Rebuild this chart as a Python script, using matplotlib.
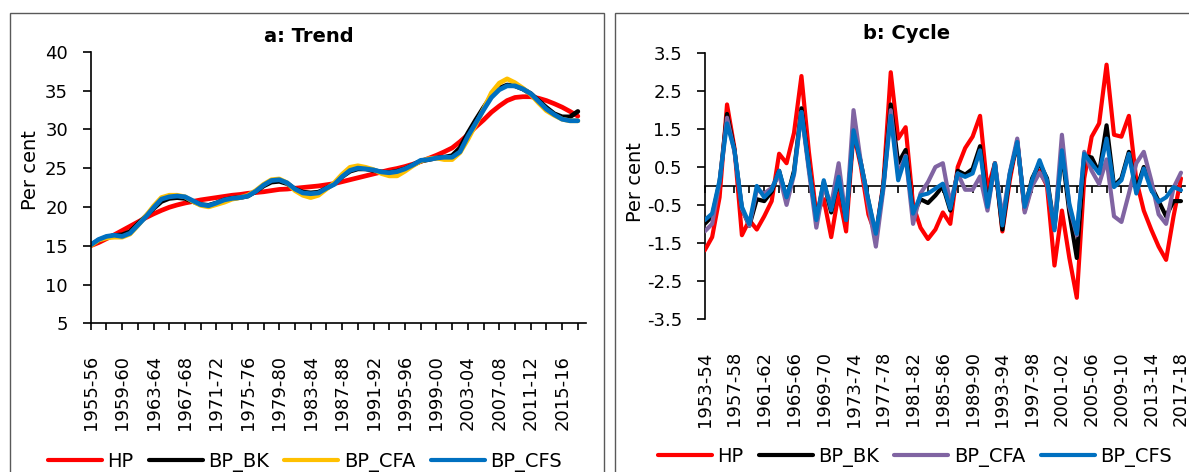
import matplotlib.pyplot as plt
from matplotlib.patches import Rectangle

# ---- data ----
trend_start = 1955   # first period 1955-56
cycle_start = 1953   # first period 1953-54

trend_hp = [15.0, 15.4, 15.9, 16.4, 16.95, 17.5, 18.05, 18.6, 19.1, 19.55,
            19.95, 20.25, 20.5, 20.7, 20.9, 21.05, 21.2, 21.35, 21.5, 21.6,
            21.75, 21.85, 21.95, 22.1, 22.25, 22.3, 22.4, 22.5, 22.6, 22.7,
            22.85, 23.0, 23.25, 23.5, 23.75, 24.0, 24.25, 24.5, 24.75, 24.95,
            25.2, 25.5, 25.85, 26.25, 26.65, 27.1, 27.6, 28.4, 29.3, 30.3,
            31.2, 32.2, 33.0, 33.7, 34.1, 34.2, 34.2, 34.0, 33.7, 33.3,
            32.85, 32.3, 31.7]
trend_bk = [15.1, 15.7, 16.1, 16.3, 16.4, 16.8, 17.8, 18.8, 19.8, 20.7,
            21.1, 21.2, 21.1, 20.7, 20.3, 20.2, 20.5, 20.9, 21.1, 21.2,
            21.4, 22.0, 22.7, 23.2, 23.3, 23.0, 22.3, 21.9, 21.8, 21.9,
            22.4, 23.0, 23.9, 24.6, 24.9, 24.9, 24.7, 24.5, 24.4, 24.6,
            24.9, 25.4, 25.9, 26.1, 26.3, 26.4, 26.6, 27.6, 29.5, 31.2,
            32.8, 34.3, 35.3, 35.7, 35.6, 35.2, 34.6, 33.7, 32.8, 32.0,
            31.6, 31.6, 32.3]
trend_cfa = [15.0, 15.7, 16.0, 16.1, 16.1, 16.5, 17.6, 18.8, 20.1, 21.2,
             21.5, 21.5, 21.3, 20.7, 20.2, 20.0, 20.3, 20.6, 21.0, 21.2,
             21.5, 22.1, 22.9, 23.5, 23.6, 23.1, 22.1, 21.5, 21.2, 21.5,
             22.3, 23.1, 24.2, 25.1, 25.3, 25.1, 24.8, 24.3, 24.0, 24.0,
             24.6, 25.3, 25.9, 26.2, 26.3, 26.1, 26.1, 27.0, 28.7, 30.6,
             32.6, 34.7, 35.95, 36.5, 36.0, 35.3, 34.5, 33.4, 32.4, 31.8,
             31.3, 31.1, 31.1]
trend_cfs = [15.1, 15.8, 16.2, 16.35, 16.2, 16.6, 17.65, 18.7, 19.9, 21.0,
             21.3, 21.4, 21.3, 20.8, 20.3, 20.15, 20.5, 20.9, 21.1, 21.2,
             21.4, 22.0, 22.8, 23.4, 23.5, 23.1, 22.3, 21.8, 21.7, 21.8,
             22.4, 22.9, 23.9, 24.7, 25.0, 24.9, 24.76, 24.5, 24.4, 24.55,
             24.9, 25.4, 26.0, 26.1, 26.3, 26.4, 26.4, 27.1, 29.1, 30.8,
             32.5, 34.1, 35.1, 35.6, 35.6, 35.2, 34.6, 33.6, 32.6, 31.9,
             31.3, 31.1, 31.1]

cycle_hp = [-1.7, -1.35, -0.3, 2.15, 1.0, -1.3, -0.9, -1.15, -0.8, -0.4,
            0.85, 0.6, 1.4, 2.9, 0.9, -0.75, -0.35, -1.35, -0.2, -1.2,
            1.4, 0.5, -0.75, -1.3, 0.05, 3.0, 1.25, 1.55, -0.5, -1.1,
            -1.4, -1.15, -0.7, -1.0, 0.5, 1.0, 1.3, 1.85, -0.1, 0.6,
            -1.2, 0.15, 1.2, -0.65, 0.05, 0.4, 0.0, -2.1, -0.65, -1.9,
            -2.95, 0.2, 1.3, 1.65, 3.2, 1.35, 1.3, 1.85, 0.15, -0.65,
            -1.15, -1.6, -1.95, -0.8, 0.2]
cycle_bk = [-1.0, -0.8, 0.1, 1.9, 0.95, -0.6, -1.05, -0.35, -0.4, -0.15,
            0.4, -0.35, 0.4, 2.05, 0.5, -0.9, 0.1, -0.7, 0.25, -0.9,
            1.5, 0.6, -0.4, -1.35, 0.0, 2.15, 0.6, 0.95, -0.75, -0.35,
            -0.45, -0.25, 0.0, -0.65, 0.4, 0.3, 0.45, 1.05, -0.5, 0.6,
            -1.15, 0.3, 1.15, -0.6, 0.2, 0.6, 0.2, -1.1, 0.9, -0.7,
            -1.9, 0.8, 0.75, 0.35, 1.6, 0.0, 0.2, 0.9, -0.1, 0.5,
            0.0, -0.4, -0.8, -0.4, -0.4]
cycle_cfa = [-1.2, -1.0, 0.1, 1.8, 0.9, -0.6, -1.05, -0.1, -0.2, -0.05,
             0.3, -0.5, 0.3, 1.95, 0.4, -1.1, 0.0, -0.5, 0.6, -0.9,
             2.0, 0.6, -0.5, -1.6, -0.1, 2.0, 0.3, 0.8, -1.0, -0.2,
             0.1, 0.5, 0.6, -0.47, 0.33, -0.1, -0.1, 0.25, -0.65, 0.6,
             -0.85, 0.35, 1.25, -0.7, 0.0, 0.35, 0.05, -1.1, 1.35, -0.55,
             -1.3, 0.9, 0.4, 0.05, 0.7, -0.8, -0.95, -0.2, 0.6, 0.9,
             0.15, -0.75, -1.0, -0.05, 0.35]
cycle_cfs = [-0.9, -0.73, 0.15, 1.65, 0.94, -0.55, -1.0, 0.0, -0.3, -0.1,
             0.4, -0.3, 0.33, 1.95, 0.5, -0.9, 0.15, -0.64, 0.24, -0.9,
             1.47, 0.59, -0.38, -1.26, -0.03, 1.85, 0.15, 0.77, -0.73, -0.25,
             -0.2, -0.07, 0.06, -0.6, 0.33, 0.24, 0.33, 0.94, -0.55, 0.59,
             -1.04, 0.33, 1.16, -0.55, 0.15, 0.68, 0.15, -1.17, 0.94, -0.47,
             -1.26, 0.85, 0.59, 0.33, 1.25, -0.03, 0.15, 0.85, -0.2, 0.46,
             -0.11, -0.42, -0.3, -0.03, -0.11]

names = ['HP', 'BP_BK', 'BP_CFA', 'BP_CFS']
trend_colors = ['#FF0000', '#000000', '#FFC000', '#0070C0']
cycle_colors = ['#FF0000', '#000000', '#8064A2', '#0070C0']


def periods(start, n):
    return [f"{y}-{(y + 1) % 100:02d}" for y in range(start, start + n)]


W, H = 1189, 472
fig = plt.figure(figsize=(W / 100, H / 100), dpi=100)

# chart-area borders (as in the Excel export)
for x0, x1 in [(10, 604), (615, 1200)]:
    fig.patches.append(Rectangle((x0 / W, -0.05), (x1 - x0) / W, 1 - 13 / H + 0.05,
                                 transform=fig.transFigure, fill=False,
                                 ec='#595959', lw=1))

axL = fig.add_axes([90.7 / W, 1 - 323.3 / H, 495 / W, 271.6 / H])
axR = fig.add_axes([704.7 / W, 1 - 318.6 / H, 480 / W, 265.3 / H])

# ---- a: Trend ----
tl = periods(trend_start, len(trend_hp))
xs = range(len(tl))
for ys, c, n in zip([trend_hp, trend_bk, trend_cfa, trend_cfs], trend_colors, names):
    axL.plot(xs, ys, color=c, lw=3.4, label=n, solid_joinstyle='round',
             solid_capstyle='round')
axL.set_xlim(0, 63)
axL.set_ylim(5, 40)
axL.set_yticks(range(5, 41, 5))
for s in ['top', 'right']:
    axL.spines[s].set_visible(False)
for s in ['left', 'bottom']:
    axL.spines[s].set_linewidth(1.2)
axL.set_xticks(range(0, len(tl), 2))
axL.set_xticklabels([tl[i] if i % 4 == 0 else '' for i in range(0, len(tl), 2)],
                    rotation=90, va='top', ha='center')
axL.tick_params(axis='x', direction='out', length=5, width=1.2, labelsize=13, pad=18)
axL.tick_params(axis='y', direction='out', length=5.8, width=1.2, labelsize=13, pad=10.5)
axL.set_ylabel('Per cent', fontsize=14)
axL.yaxis.set_label_coords(-0.1024, 0.564)

# ---- b: Cycle ----
cl = periods(cycle_start, len(cycle_hp))
xs = range(len(cl))
for ys, c, n in zip([cycle_hp, cycle_bk, cycle_cfa, cycle_cfs], cycle_colors, names):
    axR.plot(xs, ys, color=c, lw=3.0, label=n, solid_joinstyle='round',
             solid_capstyle='round', zorder=3)
axR.set_xlim(0, 64.5)
axR.set_ylim(-3.5, 3.5)
axR.spines['bottom'].set_position(('data', 0))
axR.spines['bottom'].set_linewidth(1.2)
axR.spines['bottom'].set_zorder(1)
axR.spines['left'].set_linewidth(1.2)
for s in ['top', 'right']:
    axR.spines[s].set_visible(False)
axR.set_yticks([-3.5, -2.5, -1.5, -0.5, 0.5, 1.5, 2.5, 3.5])
axR.set_yticklabels(['-3.5', '-2.5', '-1.5', '-0.5', '0.5', '1.5', '2.5', '3.5'])
axR.set_xticks(range(0, len(cl), 2))
axR.set_xticklabels([cl[i] if i % 4 == 0 else '' for i in range(0, len(cl), 2)],
                    rotation=90, va='top', ha='center')
axR.tick_params(axis='x', direction='out', length=5, width=1.2, labelsize=13, pad=114)
axR.tick_params(axis='y', direction='out', length=5.8, width=1.2, labelsize=13, pad=10.5)
axR.set_ylabel('Per cent', fontsize=14)
axR.yaxis.set_label_coords(-0.124, 0.515)

# titles
fig.text(309 / W, 1 - 36.7 / H, 'a: Trend', ha='center', va='center',
         fontsize=14, fontweight='bold')
fig.text(907 / W, 1 - 33.3 / H, 'b: Cycle', ha='center', va='center',
         fontsize=14, fontweight='bold')

# legends
legkw = dict(loc='center', ncol=4, frameon=False, fontsize=14, handlelength=2.78,
             handletextpad=0.3, columnspacing=0.77, borderpad=0, borderaxespad=0)
h, l = axL.get_legend_handles_labels()
legL = fig.legend(h, l, bbox_to_anchor=(305 / W, 1 - 461.7 / H), **legkw)
h, l = axR.get_legend_handles_labels()
legR = fig.legend(h, l, bbox_to_anchor=(915 / W, 1 - 457 / H), **legkw)
for leg in (legL, legR):
    for ln in leg.get_lines():
        ln.set_linewidth(3.0)

fig.savefig('out.png', dpi=100)
